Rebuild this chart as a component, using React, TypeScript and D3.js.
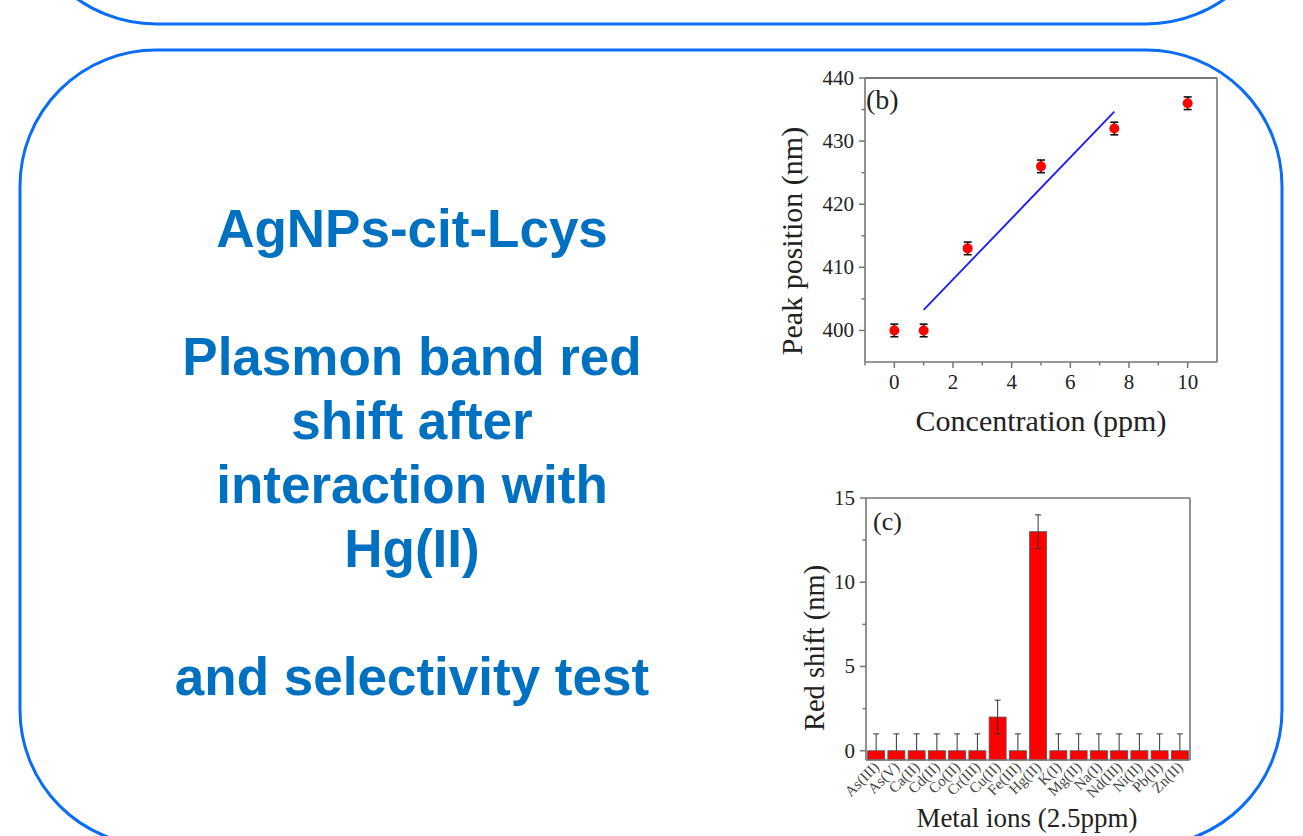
import React from "react";
import * as d3 from "d3";

// ---------- Data ----------
const titleLines = [
  { text: "AgNPs-cit-Lcys", line: 0 },
  { text: "Plasmon band red", line: 2 },
  { text: "shift after", line: 3 },
  { text: "interaction with", line: 4 },
  { text: "Hg(II)", line: 5 },
  { text: "and selectivity test", line: 7 },
];

const concentrations = [0, 1, 2.5, 5, 7.5, 10];
const peakPositions = [400, 400, 413, 426, 432, 436];
const peakErrors = [1, 1, 1, 1, 1, 1];
const fitIndices = [1, 2, 3, 4]; // points used for linear fit (1 – 7.5 ppm)

const xTicksB = [0, 2, 4, 6, 8, 10];
const xMinorB = [-1, 1, 3, 5, 7, 9];
const yTicksB = [400, 410, 420, 430, 440];
const yMinorB = [405, 415, 425, 435];

const metals = [
  "As(III)", "As(V)", "Ca(II)", "Cd(II)", "Co(II)", "Cr(III)", "Cu(II)", "Fe(III)",
  "Hg(II)", "K(I)", "Mg(II)", "Na(I)", "Nd(III)", "Ni(II)", "Pb(II)", "Zn(II)",
];
const redShifts = [0, 0, 0, 0, 0, 0, 2, 0, 13, 0, 0, 0, 0, 0, 0, 0];
const redShiftErrors = [1, 1, 1, 1, 1, 1, 1, 1, 1, 1, 1, 1, 1, 1, 1, 1];
const yTicksC = [0, 5, 10, 15];
const yMinorC = [2.5, 7.5, 12.5];

// ---------- Styles ----------
const BLUE_BOX = "#0a6cf7";
const TITLE_BLUE = "#0070c0";
const AXIS = "#767676";
const TXT = "#222";
const SERIF = "'Times New Roman', 'Liberation Serif', serif";
const SANS = "Arial, 'Liberation Sans', sans-serif";

function roundedPath(x0: number, y0: number, x1: number, y1: number, r: number) {
  const p = d3.path();
  p.moveTo(x0 + r, y0);
  p.lineTo(x1 - r, y0);
  p.arcTo(x1, y0, x1, y0 + r, r);
  p.lineTo(x1, y1 - r);
  p.arcTo(x1, y1, x1 - r, y1, r);
  p.lineTo(x0 + r, y1);
  p.arcTo(x0, y1, x0, y1 - r, r);
  p.lineTo(x0, y0 + r);
  p.arcTo(x0, y0, x0 + r, y0, r);
  p.closePath();
  return p.toString();
}

function linearFit(xs: number[], ys: number[]) {
  const mx = d3.mean(xs)!;
  const my = d3.mean(ys)!;
  let sxy = 0, sxx = 0;
  xs.forEach((x, i) => {
    sxy += (x - mx) * (ys[i] - my);
    sxx += (x - mx) * (x - mx);
  });
  const slope = sxy / sxx;
  return { slope, intercept: my - slope * mx };
}

export default function App() {
  // ---- Chart (b) ----
  const bL = 865, bR = 1217, bT = 78, bB = 362;
  const xB = d3.scaleLinear().domain([-1, 11]).range([bL, bR]);
  const yB = d3.scaleLinear().domain([395, 440]).range([bB, bT]);
  const fitX = fitIndices.map((i) => concentrations[i]);
  const fitY = fitIndices.map((i) => peakPositions[i]);
  const fit = linearFit(fitX, fitY);
  const fx0 = d3.min(fitX)!, fx1 = d3.max(fitX)!;
  const fitLine = d3.line<number>()
    .x((d) => xB(d))
    .y((d) => yB(fit.intercept + fit.slope * d))([fx0, fx1]);

  // ---- Chart (c) ----
  const cL = 866, cR = 1190, cT = 498, cB = 760;
  const xC = d3.scaleBand<string>().domain(metals).range([cL, cR]).paddingInner(0.16).paddingOuter(0.08);
  const yC = d3.scaleLinear().domain([-0.55, 15]).range([cB, cT]);

  return (
    <svg width={1303} height={836} style={{ position: "absolute", left: 0, top: 0, background: "#fff" }}>
      {/* Boxes */}
      <path d={roundedPath(20, -400, 1282, 24, 136)} fill="none" stroke={BLUE_BOX} strokeWidth={3} />
      <path d={roundedPath(20, 50, 1282, 846, 136)} fill="none" stroke={BLUE_BOX} strokeWidth={3} />

      {/* Title text */}
      {titleLines.map((t, i) => (
        <text key={i} x={412} y={247 + t.line * 64} textAnchor="middle" fontFamily={SANS}
          fontWeight="bold" fontSize={53} fill={TITLE_BLUE}>{t.text}</text>
      ))}

      {/* ---------- Chart (b) ---------- */}
      <g>
        {/* frame */}
        <line x1={bL} x2={bR} y1={bT} y2={bT} stroke={AXIS} strokeWidth={2.2} />
        <line x1={bR} x2={bR} y1={bT} y2={bB} stroke={AXIS} strokeWidth={1.6} />
        <line x1={bL} x2={bL} y1={bT} y2={bB} stroke={AXIS} strokeWidth={1.6} />
        <line x1={bL} x2={bR} y1={bB} y2={bB} stroke={AXIS} strokeWidth={1.6} />
        {/* x ticks */}
        {xTicksB.map((t) => (
          <g key={"xb" + t}>
            <line x1={xB(t)} x2={xB(t)} y1={bB} y2={bB + 6} stroke={AXIS} strokeWidth={1.5} />
            <text x={xB(t)} y={bB + 27} textAnchor="middle" fontFamily={SERIF} fontSize={21} fill={TXT}>{t}</text>
          </g>
        ))}
        {xMinorB.map((t) => (
          <line key={"xbm" + t} x1={xB(t)} x2={xB(t)} y1={bB} y2={bB + 3.5} stroke={AXIS} strokeWidth={1.5} />
        ))}
        {/* y ticks */}
        {yTicksB.map((t) => (
          <g key={"yb" + t}>
            <line x1={bL - 6} x2={bL} y1={yB(t)} y2={yB(t)} stroke={AXIS} strokeWidth={1.5} />
            <text x={bL - 11} y={yB(t) + 7} textAnchor="end" fontFamily={SERIF} fontSize={21} fill={TXT}>{t}</text>
          </g>
        ))}
        {yMinorB.map((t) => (
          <line key={"ybm" + t} x1={bL - 3.5} x2={bL} y1={yB(t)} y2={yB(t)} stroke={AXIS} strokeWidth={1.5} />
        ))}
        {/* axis titles */}
        <text x={1041} y={431} textAnchor="middle" fontFamily={SERIF} fontSize={30} fill={TXT}>Concentration (ppm)</text>
        <text transform={`translate(802, 241) rotate(-90)`} textAnchor="middle" fontFamily={SERIF} fontSize={30} fill={TXT}>Peak position (nm)</text>
        <text x={866} y={109} fontFamily={SERIF} fontSize={28} fill={TXT}>(b)</text>
        {/* fit line */}
        <path d={fitLine || ""} fill="none" stroke="#1a1aff" strokeWidth={1.8} />
        {/* error bars + points */}
        {concentrations.map((c, i) => {
          const x = xB(c);
          const yl = yB(peakPositions[i] - peakErrors[i]);
          const yh = yB(peakPositions[i] + peakErrors[i]);
          return (
            <g key={"pb" + i}>
              <line x1={x} x2={x} y1={yl} y2={yh} stroke="#111" strokeWidth={1.6} />
              <line x1={x - 4} x2={x + 4} y1={yl} y2={yl} stroke="#111" strokeWidth={1.6} />
              <line x1={x - 4} x2={x + 4} y1={yh} y2={yh} stroke="#111" strokeWidth={1.6} />
              <circle cx={x} cy={yB(peakPositions[i])} r={5} fill="#ff0000" />
            </g>
          );
        })}
      </g>

      {/* ---------- Chart (c) ---------- */}
      <g>
        {/* bars */}
        {metals.map((m, i) => (
          <rect key={"bar" + m} x={xC(m)!} width={xC.bandwidth()} y={yC(redShifts[i])}
            height={cB - yC(redShifts[i])} fill="#ff0000" stroke="#555" strokeWidth={0.8} />
        ))}
        {/* error bars */}
        {metals.map((m, i) => {
          const x = xC(m)! + xC.bandwidth() / 2;
          const lo = Math.max(redShifts[i] - redShiftErrors[i], 0);
          const hi = redShifts[i] + redShiftErrors[i];
          return (
            <g key={"eb" + m}>
              <line x1={x} x2={x} y1={yC(lo)} y2={yC(hi)} stroke="#333" strokeWidth={1} />
              <line x1={x - 3} x2={x + 3} y1={yC(hi)} y2={yC(hi)} stroke="#333" strokeWidth={1} />
              {redShifts[i] - redShiftErrors[i] >= 0 && (
                <line x1={x - 3} x2={x + 3} y1={yC(lo)} y2={yC(lo)} stroke="#333" strokeWidth={1} />
              )}
            </g>
          );
        })}
        {/* frame */}
        <line x1={cL} x2={cR} y1={cT} y2={cT} stroke={AXIS} strokeWidth={1.6} />
        <line x1={cR} x2={cR} y1={cT} y2={cB} stroke={AXIS} strokeWidth={1.6} />
        <line x1={cL} x2={cL} y1={cT} y2={cB} stroke={AXIS} strokeWidth={1.6} />
        <line x1={cL} x2={cR} y1={cB} y2={cB} stroke={AXIS} strokeWidth={1.6} />
        {/* y ticks */}
        {yTicksC.map((t) => (
          <g key={"yc" + t}>
            <line x1={cL - 6} x2={cL} y1={yC(t)} y2={yC(t)} stroke={AXIS} strokeWidth={1.5} />
            <text x={cL - 11} y={yC(t) + 7} textAnchor="end" fontFamily={SERIF} fontSize={21} fill={TXT}>{t}</text>
          </g>
        ))}
        {yMinorC.map((t) => (
          <line key={"ycm" + t} x1={cL - 3.5} x2={cL} y1={yC(t)} y2={yC(t)} stroke={AXIS} strokeWidth={1.5} />
        ))}
        {/* x labels */}
        {metals.map((m) => {
          const x = xC(m)! + xC.bandwidth() / 2 + 4;
          return (
            <text key={"xl" + m} transform={`translate(${x}, ${cB + 8}) rotate(-45)`} textAnchor="end"
              fontFamily={SERIF} fontSize={15} fill="#444">{m}</text>
          );
        })}
        <text x={1027} y={827} textAnchor="middle" fontFamily={SERIF} fontSize={27} fill={TXT}>Metal ions (2.5ppm)</text>
        <text transform={`translate(824, 648) rotate(-90)`} textAnchor="middle" fontFamily={SERIF} fontSize={28.5} fill={TXT}>Red shift (nm)</text>
        <text x={873} y={530} fontFamily={SERIF} fontSize={26} fill={TXT}>(c)</text>
      </g>
    </svg>
  );
}
